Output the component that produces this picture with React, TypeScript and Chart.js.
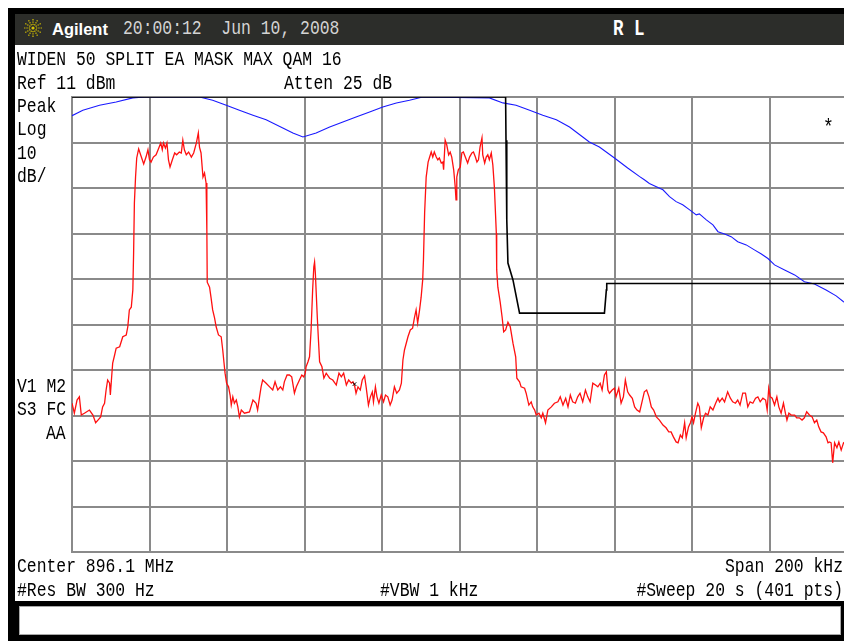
import React, { useEffect, useRef } from "react";
import { Chart, registerables } from "chart.js";
Chart.register(...registerables);

// Screen: Center 896.1 MHz, Span 200 kHz, Ref 11 dBm, 10 dB/div
const xTicksKHz = [-100, -80, -60, -40, -20, 0, 20, 40, 60, 80, 100];
const yTicksDbm = [11, 1, -9, -19, -29, -39, -49, -59, -69, -79, -89];

// Trace 1 (red), frequency offset from center in kHz, level in dBm
const trace1FreqKHz = [
  -100.0,-99.4,-98.7,-98.1,-97.6,-96.8,-95.5,-94.6,-93.9,-93.3,
  -92.6,-92.1,-91.6,-91.2,-90.8,-90.3,-90.1,-89.7,-89.5,-89.0,
  -88.6,-87.7,-86.9,-86.0,-85.6,-85.2,-84.7,-84.3,-84.1,-83.9,
  -83.6,-83.3,-82.8,-82.1,-81.5,-80.9,-80.4,-80.0,-79.6,-79.0,
  -78.3,-77.6,-77.1,-76.7,-76.4,-75.9,-75.5,-75.1,-74.7,-74.1,
  -73.5,-73.0,-72.3,-71.8,-71.4,-71.0,-70.5,-69.9,-69.2,-68.6,
  -67.9,-67.4,-67.1,-66.7,-66.2,-65.8,-65.4,-65.2,-65.1,-64.5,
  -64.1,-63.7,-63.2,-62.8,-62.2,-61.5,-61.1,-60.8,-60.5,-60.1,
  -59.6,-59.2,-58.9,-58.5,-58.1,-57.6,-57.2,-56.8,-56.3,-55.5,
  -54.2,-53.3,-52.5,-52.1,-51.6,-51.2,-50.8,-49.9,-49.0,-48.2,
  -47.6,-46.9,-46.2,-45.6,-45.2,-44.5,-43.9,-43.3,-42.6,-42.1,
  -41.3,-40.7,-40.2,-39.8,-39.6,-39.1,-38.7,-38.3,-37.9,-37.6,
  -37.4,-37.2,-36.7,-36.4,-36.1,-35.5,-35.0,-34.4,-33.5,-32.7,
  -31.8,-31.1,-30.5,-29.9,-29.2,-28.6,-27.9,-27.5,-27.1,-26.7,
  -26.2,-25.6,-25.1,-24.5,-24.1,-23.5,-23.0,-22.5,-22.2,-21.7,
  -21.3,-20.8,-20.2,-19.6,-19.1,-18.5,-17.9,-17.4,-16.8,-16.2,
  -15.5,-15.0,-14.6,-14.2,-13.3,-12.7,-12.1,-11.6,-11.2,-10.8,
  -10.3,-9.9,-9.5,-9.3,-9.0,-8.6,-8.1,-7.7,-7.3,-6.9,
  -6.5,-6.0,-5.6,-5.2,-4.7,-4.3,-4.1,-3.7,-3.3,-2.8,
  -2.4,-2.0,-1.5,-1.1,-0.9,-0.7,-0.3,0.2,0.6,1.0,
  1.5,2.1,2.6,3.2,3.6,4.1,4.5,4.9,5.3,5.8,
  6.0,6.5,6.9,7.3,7.7,8.2,8.6,9.0,9.5,9.6,
  9.9,10.5,11.0,11.4,11.9,12.5,13.1,13.8,14.5,14.8,
  15.5,15.9,16.8,17.2,17.9,18.5,18.9,19.4,19.8,20.5,
  21.1,21.5,22.2,22.8,23.7,24.5,25.4,26.0,26.7,27.4,
  28.0,28.6,29.2,29.9,30.5,31.1,31.8,32.5,33.1,33.7,
  34.4,35.1,35.7,36.3,36.8,37.4,37.9,38.3,38.7,39.4,
  40.0,40.4,41.1,41.7,42.3,42.8,43.4,43.9,44.6,45.2,
  45.8,46.5,47.1,47.7,48.3,48.9,49.5,50.1,50.8,51.6,
  52.5,53.3,54.0,54.6,55.2,55.9,56.4,57.0,57.5,58.1,
  58.5,59.1,59.6,60.0,60.4,60.9,61.5,61.9,62.4,63.0,
  63.5,64.1,64.7,65.4,66.1,66.7,67.1,67.8,68.4,69.2,
  69.9,70.5,71.2,71.8,72.4,73.1,73.8,74.4,75.0,75.7,
  76.4,77.0,77.6,78.3,79.0,79.4,79.8,80.2,80.7,81.3,
  81.9,82.4,83.0,83.6,84.1,84.5,85.0,85.6,86.5,87.0,
  87.7,88.4,89.0,89.6,90.3,91.0,91.6,92.2,92.7,93.3,
  93.9,94.6,95.1,95.5,95.9,96.3,96.8,97.4,97.9,98.5,
  99.1,100.0,
];
const trace1LevelDbm = [
  -56.3,-58.5,-55.6,-54.9,-58.9,-58.5,-57.8,-58.9,-60.6,-60.0,
  -59.3,-57.1,-56.3,-53.4,-51.2,-51.9,-54.5,-49.7,-47.5,-45.7,
  -44.2,-43.9,-41.7,-41.3,-39.5,-35.8,-35.2,-31.4,-23.3,-12.3,
  -6.6,-2.4,-0.4,-2.2,-3.7,-2.2,-0.6,-2.8,-3.3,-2.2,
  -1.7,-0.2,0.9,-0.6,0.9,-0.2,0.9,-2.8,-4.4,-2.8,
  -1.3,-1.7,-1.1,-1.3,1.5,-0.6,-1.7,-1.1,-2.2,-1.3,
  0.9,3.1,0.0,-1.3,-6.6,-5.7,-7.9,-18.2,-29.7,-30.8,
  -33.2,-35.8,-37.6,-39.5,-41.3,-41.7,-44.6,-47.2,-49.7,-51.9,
  -52.7,-54.5,-56.7,-54.9,-56.3,-55.6,-57.1,-59.3,-57.8,-58.5,
  -58.2,-55.6,-56.3,-57.8,-54.9,-52.7,-51.2,-51.9,-52.7,-53.4,
  -51.6,-53.4,-52.7,-53.4,-51.6,-50.1,-50.1,-50.5,-54.1,-52.7,
  -51.2,-50.1,-50.5,-49.7,-48.3,-47.2,-46.1,-40.2,-31.4,-26.4,
  -25.3,-27.7,-37.4,-42.4,-47.2,-48.3,-50.8,-49.7,-50.8,-51.2,
  -52.3,-49.7,-50.5,-49.7,-52.3,-51.2,-51.9,-51.6,-52.3,-54.1,
  -52.7,-53.4,-51.2,-50.3,-52.7,-56.7,-54.9,-53.8,-56.0,-52.7,
  -54.9,-56.3,-54.5,-56.0,-54.5,-54.9,-56.7,-55.6,-52.7,-54.1,
  -53.4,-51.9,-46.8,-44.6,-41.7,-40.2,-39.8,-37.4,-35.8,-38.7,
  -35.8,-33.0,-29.2,-24.8,-14.5,-6.6,-3.3,-2.2,-1.1,-2.2,
  -1.1,-2.2,-2.8,-2.4,-3.5,-3.3,-5.0,1.5,0.5,-1.7,
  -1.1,-2.2,-5.0,-8.8,-11.6,-6.6,-5.0,-4.4,-1.3,-1.1,
  -2.2,-3.5,-2.2,-1.3,-1.1,-2.2,-3.3,-2.8,0.0,2.0,
  -1.7,-3.5,-2.2,-1.7,-2.8,-1.3,-3.9,-8.8,-18.9,-27.0,
  -30.8,-34.1,-37.4,-40.6,-40.2,-38.5,-39.5,-43.1,-46.1,-50.8,
  -51.6,-52.7,-53.0,-54.1,-56.7,-56.0,-57.1,-57.8,-58.9,-58.5,
  -59.5,-58.5,-60.6,-57.8,-57.1,-56.3,-56.0,-54.9,-56.7,-55.2,
  -57.1,-54.5,-56.0,-56.3,-54.9,-54.1,-56.0,-53.4,-54.9,-56.0,
  -51.9,-52.3,-52.7,-51.9,-53.4,-50.1,-49.4,-53.4,-54.1,-53.4,
  -53.0,-54.9,-53.0,-56.3,-54.9,-51.2,-53.8,-54.5,-55.2,-57.1,
  -57.8,-58.2,-56.0,-53.8,-53.4,-54.9,-57.1,-57.8,-59.3,-60.0,
  -61.1,-61.7,-62.6,-62.6,-63.7,-64.8,-65.0,-63.3,-63.9,-60.6,
  -63.9,-61.5,-60.6,-59.3,-60.6,-58.5,-56.3,-57.1,-61.7,-59.5,
  -58.5,-58.9,-57.1,-57.8,-56.3,-55.2,-56.0,-55.2,-56.0,-53.8,
  -55.2,-56.0,-56.3,-55.6,-56.7,-54.1,-54.1,-57.1,-56.0,-56.3,
  -55.2,-54.9,-56.0,-55.2,-55.6,-57.8,-53.0,-54.9,-55.2,-56.7,
  -54.9,-57.1,-58.5,-56.3,-58.5,-60.0,-58.5,-58.9,-58.9,-59.5,
  -59.5,-60.0,-59.5,-58.2,-58.9,-59.3,-60.6,-60.0,-61.5,-62.6,
  -62.8,-63.7,-65.0,-64.8,-65.0,-69.4,-65.0,-66.1,-64.8,-66.6,
  -65.0,-65.7,
];

// Trace 2 (blue)
const trace2FreqKHz = [
  -100.0,-97.2,-92.9,-88.6,-84.3,-81.3,-67.1,-63.7,-60.2,-56.8,
  -53.3,-49.9,-45.6,-43.0,-40.4,-37.0,-33.5,-30.1,-26.7,-23.2,
  -19.8,-16.3,-12.9,-9.5,7.7,11.2,14.6,18.1,21.5,25.0,
  28.4,31.8,33.5,36.1,40.0,43.4,46.5,47.7,49.0,50.8,
  52.5,54.2,55.9,57.6,59.4,61.1,61.9,63.7,65.4,66.7,
  68.4,70.1,71.8,74.0,76.1,77.9,79.6,81.3,83.9,86.5,
  89.0,91.6,94.6,97.2,99.1,100.0,
];
const trace2LevelDbm = [
  6.9,8.1,9.2,9.9,10.8,11.0,11.0,10.3,9.2,8.1,
  7.0,6.0,4.2,3.1,2.2,3.1,4.4,5.5,6.6,7.7,
  8.8,9.7,10.3,11.0,10.8,9.7,9.2,8.1,7.0,6.0,
  4.4,2.2,1.1,0.0,-2.4,-4.6,-6.5,-7.2,-8.0,-8.7,
  -9.4,-10.9,-12.0,-12.7,-13.8,-14.9,-14.7,-16.0,-17.1,-18.6,
  -19.1,-19.7,-20.8,-21.5,-22.6,-23.5,-24.5,-25.9,-27.0,-28.1,
  -29.6,-30.1,-31.4,-32.7,-34.0,-34.3,
];

// Limit mask (black)
const maskFreqKHz = [-100.0, 11.9, 12.0, 12.2, 12.5, 13.8, 15.5, 37.4, 37.9, 38.0, 100.0];
const maskLevelDbm = [11.0, 11.0, 1.5, -16.0, -25.5, -29.2, -36.5, -36.5, -31.4, -30.0, -30.0];

// Marker
const markerFreqKHz = [-27.1];
const markerLevelDbm = [-52.1];

const MONO = "'Liberation Mono', 'DejaVu Sans Mono', monospace";

type Label = { text: string; left?: number; right?: number; top: number };
const screenLabels: Label[] = [
  { text: "WIDEN 50 SPLIT EA MASK MAX QAM 16", left: 17, top: 51 },
  { text: "Ref 11 dBm", left: 17, top: 75 },
  { text: "Atten 25 dB", left: 284, top: 75 },
  { text: "Peak", left: 17, top: 98 },
  { text: "Log", left: 17, top: 121 },
  { text: "10", left: 17, top: 145 },
  { text: "dB/", left: 17, top: 168 },
  { text: "V1 M2", left: 17, top: 378 },
  { text: "S3 FC", left: 17, top: 401 },
  { text: "AA", left: 46, top: 425 },
  { text: "Center 896.1 MHz", left: 17, top: 558 },
  { text: "Span 200 kHz", right: 1, top: 558 },
  { text: "#Res BW 300 Hz", left: 17, top: 582 },
  { text: "#VBW 1 kHz", left: 380, top: 582 },
  { text: "#Sweep 20 s (401 pts)", right: 1, top: 582 },
];

function SpectrumCanvas() {
  const ref = useRef<HTMLCanvasElement | null>(null);
  useEffect(() => {
    const canvas = ref.current;
    if (!canvas) return;
    const pts = (xs: number[], ys: number[]) => xs.map((x, i) => ({ x, y: ys[i] }));
    const gridColor = "#8a8a8a";
    const chart = new Chart(canvas, {
      type: "line",
      data: {
        datasets: [
          {
            label: "Marker",
            data: pts(markerFreqKHz, markerLevelDbm),
            showLine: false,
            pointStyle: "crossRot",
            pointRadius: 2.5,
            borderColor: "#000000",
            borderWidth: 1,
            backgroundColor: "#000000",
          },
          {
            label: "Trace 1",
            data: pts(trace1FreqKHz, trace1LevelDbm),
            borderColor: "#ff1010",
            borderWidth: 1.3,
            pointRadius: 0,
          },
          {
            label: "Limit",
            data: pts(maskFreqKHz, maskLevelDbm),
            borderColor: "#000000",
            borderWidth: 1.6,
            pointRadius: 0,
          },
          {
            label: "Trace 2",
            data: pts(trace2FreqKHz, trace2LevelDbm),
            borderColor: "#1a1aff",
            borderWidth: 1.1,
            pointRadius: 0,
          },
        ],
      },
      options: {
        responsive: false,
        animation: false,
        devicePixelRatio: 1,
        events: [],
        layout: { padding: { left: 72, top: 97, right: 13, bottom: 89 }, autoPadding: false },
        elements: { line: { tension: 0 } },
        plugins: { legend: { display: false }, tooltip: { enabled: false }, title: { display: false } },
        scales: {
          x: {
            type: "linear",
            min: -100,
            max: 100,
            afterBuildTicks: (s: any) => {
              s.ticks = xTicksKHz.map((v) => ({ value: v }));
            },
            ticks: { display: false },
            grid: { color: gridColor, lineWidth: 2, drawTicks: false },
            border: { display: true, color: gridColor, width: 2 },
          },
          y: {
            type: "linear",
            min: -89,
            max: 11,
            afterBuildTicks: (s: any) => {
              s.ticks = yTicksDbm.map((v) => ({ value: v }));
            },
            ticks: { display: false },
            grid: { color: gridColor, lineWidth: 2, drawTicks: false },
            border: { display: true, color: gridColor, width: 2 },
          },
        },
      },
    } as any);
    return () => chart.destroy();
  }, []);
  return (
    <canvas
      ref={ref}
      width={860}
      height={641}
      style={{ position: "absolute", left: 0, top: 0, width: 860, height: 641 }}
    />
  );
}

function Logo() {
  const rays = Array.from({ length: 12 }, (_, i) => (i * Math.PI) / 6);
  return (
    <svg width={22} height={22} style={{ position: "absolute", left: 22, top: 17 }} viewBox="0 0 22 22">
      {rays.map((a, i) => (
        <line
          key={i}
          x1={11 + Math.cos(a) * 3}
          y1={11 + Math.sin(a) * 3}
          x2={11 + Math.cos(a) * 9.5}
          y2={11 + Math.sin(a) * 9.5}
          stroke="#d8c400"
          strokeWidth={1.2}
          strokeDasharray="1.3 1"
        />
      ))}
      <circle cx={11} cy={11} r={1.6} fill="#d8c400" />
    </svg>
  );
}

export default function App() {
  const textStyle: React.CSSProperties = {
    position: "absolute",
    fontFamily: MONO,
    fontSize: "16.4px",
    lineHeight: "16px",
    whiteSpace: "pre",
    color: "#000",
    transform: "scaleY(1.2)",
    transformOrigin: "left top",
  };
  return (
    <div
      style={{
        position: "fixed",
        left: 0,
        top: 0,
        width: 844,
        height: 641,
        overflow: "hidden",
        background: "#ffffff",
      }}
    >
      {/* instrument frame */}
      <div style={{ position: "absolute", left: 8, top: 8, width: 836, height: 633, background: "#000" }} />
      <div style={{ position: "absolute", left: 15, top: 14, width: 829, height: 31, background: "#2c2d2a" }} />
      <div style={{ position: "absolute", left: 15, top: 45, width: 829, height: 556, background: "#fff" }} />
      <div
        style={{
          position: "absolute",
          left: 19,
          top: 606,
          width: 820,
          height: 27,
          background: "#fff",
          border: "1px solid #a8a8a8",
        }}
      />
      <Logo />
      <div
        style={{
          position: "absolute",
          left: 52,
          top: 21,
          fontFamily: "'Liberation Sans', Arial, sans-serif",
          fontWeight: 700,
          fontSize: "16.5px",
          lineHeight: "16.5px",
          color: "#ffffff",
          whiteSpace: "pre",
        }}
      >
        Agilent
      </div>
      <div style={{ ...textStyle, left: 123, top: 20, color: "#d4d4d4" }}>20:00:12  Jun 10, 2008</div>
      <div
        style={{
          ...textStyle,
          left: 613,
          top: 19,
          color: "#ffffff",
          fontWeight: 700,
          fontSize: "17.5px",
          lineHeight: "17px",
          transform: "scaleY(1.25)",
        }}
      >
        R L
      </div>

      <SpectrumCanvas />

      {screenLabels.map((l, i) => (
        <div
          key={i}
          style={{
            ...textStyle,
            top: l.top,
            ...(l.left !== undefined ? { left: l.left } : { right: l.right, textAlign: "right" as const }),
            ...(l.right !== undefined ? { transformOrigin: "right top" } : {}),
          }}
        >
          {l.text}
        </div>
      ))}
      <div style={{ ...textStyle, left: 823, top: 118, fontSize: "18px" }}>*</div>
    </div>
  );
}
